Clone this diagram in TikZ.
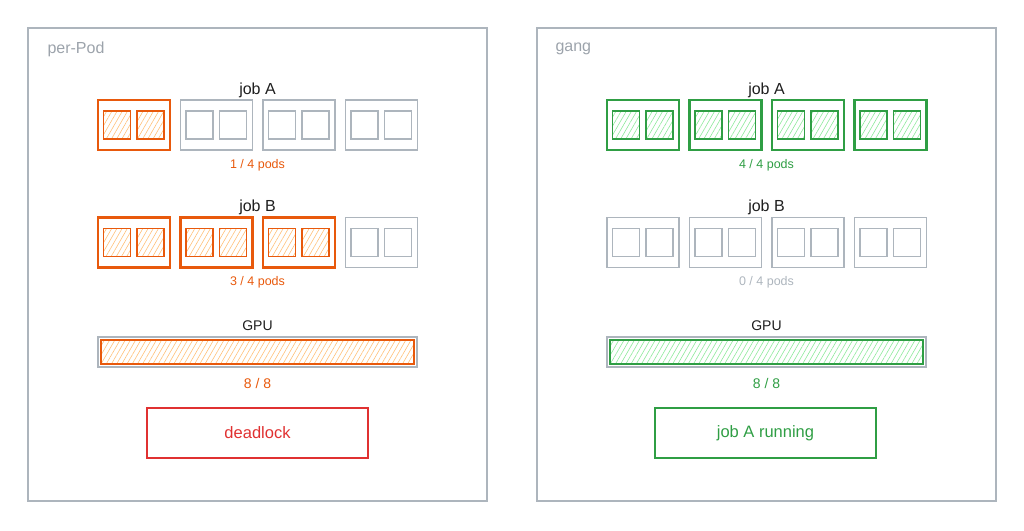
\documentclass[tikz,border=0pt]{standalone}
\usepackage{fontspec}
\setmainfont{Liberation Sans}
\usepackage{tikz}
\usetikzlibrary{patterns.meta}
\usetikzlibrary{positioning}

\definecolor{sketchgray}{HTML}{ADB5BD}
\definecolor{titlegray}{HTML}{9CA3AB}
\definecolor{ink}{HTML}{1E1E1E}
\definecolor{sketchorange}{HTML}{E8590C}
\definecolor{hatchorange}{HTML}{FFC078}
\definecolor{sketchgreen}{HTML}{2F9E44}
\definecolor{hatchgreen}{HTML}{8CE99A}
\definecolor{sketchred}{HTML}{E03131}

\begin{document}
\begin{tikzpicture}[x=1pt, y=-1pt,
    frame/.style={draw=sketchgray, line width=1.6pt, minimum width=459pt, minimum height=473pt, inner sep=0},
    pod/.style={draw=#1, line width=2.2pt, minimum width=72pt, minimum height=50pt, inner sep=0},
    cell/.style={draw=#1, line width=1.8pt, minimum width=27pt, minimum height=28pt, inner sep=0},
    idle/.style={line width=1.2pt},
    hatchO/.style={pattern={Lines[angle=60, distance=4.5pt, line width=0.6pt]}, pattern color=hatchorange},
    hatchG/.style={pattern={Lines[angle=60, distance=4.5pt, line width=0.6pt]}, pattern color=hatchgreen},
    nohatch/.style={},
    jobtext/.style={text=ink, font=\fontsize{16}{18}\selectfont},
    count/.style={text=#1, font=\fontsize{12.5}{14}\selectfont},
    title/.style={text=titlegray, anchor=west, font=\fontsize{16}{18}\selectfont},
    gpubar/.style={draw=sketchgray, line width=1.3pt, minimum width=319pt, minimum height=30pt, inner sep=0},
    gpufill/.style={draw=#1, line width=1.8pt, minimum width=313pt, minimum height=24pt, inner sep=0},
    result/.style={draw=#1, text=#1, line width=2pt, minimum width=221pt, minimum height=50pt, font=\fontsize{16.5}{18}\selectfont}]
    \useasboundingbox (0,0) rectangle (1024,530);

    % per-Pod
    \node[frame] (perpod) at (257.5,264.5) {};
    \node[title] (perpodtitle) at (44,49) {per-Pod};
    \node[jobtext] (LjobA) at (257.5,90) {job A};
    \foreach \i/\c/\f/\w in {1/sketchorange/hatchO/,2/sketchgray/nohatch/idle,3/sketchgray/nohatch/idle,4/sketchgray/nohatch/idle} {
        \node[pod=\c, \w] (LA\i) at (51.5+82.5*\i,125) {};
        \node[cell=\c, \f, \w] (LAl\i) at ([xshift=-17pt]LA\i.center) {};
        \node[cell=\c, \f, \w] (LAr\i) at ([xshift=16.5pt]LA\i.center) {};
    }
    \node[count=sketchorange] (LcountA) at (257.5,165) {1 / 4 pods};
    \node[jobtext] (LjobB) at (257.5,207) {job B};
    \foreach \i/\c/\f/\w in {1/sketchorange/hatchO/,2/sketchorange/hatchO/,3/sketchorange/hatchO/,4/sketchgray/nohatch/idle} {
        \node[pod=\c, \w] (LB\i) at (51.5+82.5*\i,242.5) {};
        \node[cell=\c, \f, \w] (LBl\i) at ([xshift=-17pt]LB\i.center) {};
        \node[cell=\c, \f, \w] (LBr\i) at ([xshift=16.5pt]LB\i.center) {};
    }
    \node[count=sketchorange] (LcountB) at (257.5,282) {3 / 4 pods};
    \node[jobtext, font=\fontsize{14}{16}\selectfont] (Lgputext) at (257.5,326) {GPU};
    \node[gpubar] (Lgpu) at (257.5,352) {};
    \node[gpufill=sketchorange, hatchO] (Lgpufill) at (Lgpu.center) {};
    \node[count=sketchorange, font=\fontsize{14}{16}\selectfont] (Lgpucount) at (257.5,383) {8 / 8};
    \node[result=sketchred] (deadlock) at (257.5,433) {deadlock};

    % gang
    \node[frame] (gang) at (766.5,264.5) {};
    \node[title] (gangtitle) at (552,49) {gang};
    \node[jobtext] (RjobA) at (766.5,90) {job A};
    \foreach \i in {1,...,4} {
        \node[pod=sketchgreen] (RA\i) at (560.5+82.5*\i,125) {};
        \node[cell=sketchgreen, hatchG] (RAl\i) at ([xshift=-17pt]RA\i.center) {};
        \node[cell=sketchgreen, hatchG] (RAr\i) at ([xshift=16.5pt]RA\i.center) {};
    }
    \node[count=sketchgreen] (RcountA) at (766.5,165) {4 / 4 pods};
    \node[jobtext] (RjobB) at (766.5,207) {job B};
    \foreach \i in {1,...,4} {
        \node[pod=sketchgray, idle] (RB\i) at (560.5+82.5*\i,242.5) {};
        \node[cell=sketchgray, idle] (RBl\i) at ([xshift=-17pt]RB\i.center) {};
        \node[cell=sketchgray, idle] (RBr\i) at ([xshift=16.5pt]RB\i.center) {};
    }
    \node[count=sketchgray] (RcountB) at (766.5,282) {0 / 4 pods};
    \node[jobtext, font=\fontsize{14}{16}\selectfont] (Rgputext) at (766.5,326) {GPU};
    \node[gpubar] (Rgpu) at (766.5,352) {};
    \node[gpufill=sketchgreen, hatchG] (Rgpufill) at (Rgpu.center) {};
    \node[count=sketchgreen, font=\fontsize{14}{16}\selectfont] (Rgpucount) at (766.5,383) {8 / 8};
    \node[result=sketchgreen] (running) at (765.5,433) {job A running};
\end{tikzpicture}
\end{document}
